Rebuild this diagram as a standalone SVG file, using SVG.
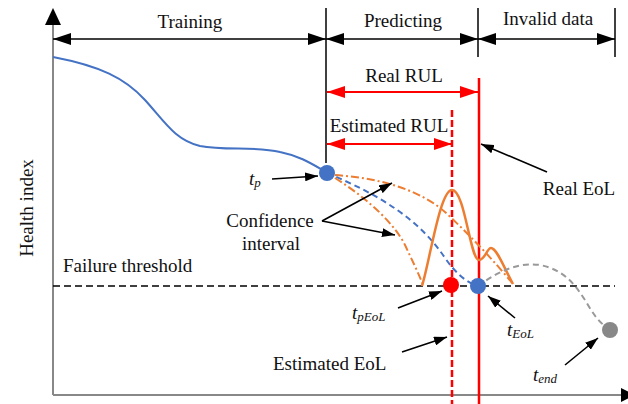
<svg xmlns="http://www.w3.org/2000/svg" width="628" height="404" viewBox="0 0 628 404" font-family="'Liberation Serif', 'DejaVu Serif', serif">
<style>
text{font-family:'Liberation Serif','DejaVu Serif',serif;font-size:19px;fill:#111}
.it{font-style:italic}
.sub{font-size:13px;font-style:italic}
.dim{stroke:#000;stroke-width:1.5;fill:none}
.red{stroke:#ff0000;stroke-width:2.5;fill:none}
.ptr{stroke:#000;stroke-width:1.6;fill:none;marker-end:url(#ah)}
</style>
<defs>
<marker id="db" viewBox="0 0 18 12" refX="18" refY="6" markerWidth="18" markerHeight="12" markerUnits="userSpaceOnUse" orient="auto-start-reverse"><path d="M0,0 L18,6 L0,12 Z" fill="#000"/></marker>
<marker id="dr" viewBox="0 0 18 12" refX="18" refY="6" markerWidth="18" markerHeight="12" markerUnits="userSpaceOnUse" orient="auto-start-reverse"><path d="M0,0 L18,6 L0,12 Z" fill="#ff0000"/></marker>
<marker id="ah" viewBox="0 0 13 9" refX="13" refY="4.5" markerWidth="13" markerHeight="9" markerUnits="userSpaceOnUse" orient="auto"><path d="M0,0 L13,4.5 L0,9 Z" fill="#000"/></marker>
</defs>
<g id="axes">
<line x1="53" y1="22" x2="53" y2="395" stroke="#888" stroke-width="2"/>
<line x1="53" y1="395" x2="624" y2="395" stroke="#888" stroke-width="2"/>
<polygon points="45,25 53,8 61,25" fill="#000"/>
<polygon points="621,388 635,395 621,402" fill="#000"/>
<text transform="translate(33,208) rotate(-90)" text-anchor="middle">Health index</text>
</g>
<g id="phases">
<line class="dim" x1="326" y1="8" x2="326" y2="163"/>
<line class="dim" x1="478" y1="8" x2="478" y2="57"/>
<line class="dim" x1="615" y1="8" x2="615" y2="57"/>
<text x="190" y="28" text-anchor="middle">Training</text>
<text x="403" y="27" text-anchor="middle">Predicting</text>
<text x="548" y="25" text-anchor="middle">Invalid data</text>
</g>
<g id="rul">
<line class="red" x1="479" y1="78" x2="479" y2="404"/>
<line class="red" x1="452" y1="110" x2="452" y2="404" stroke-dasharray="7,3"/>
<text x="404" y="82" text-anchor="middle">Real RUL</text>
<text x="389" y="132" text-anchor="middle">Estimated RUL</text>
</g>
<g id="threshold">
<line x1="53" y1="286" x2="615" y2="286" stroke="#000" stroke-width="1.5" stroke-dasharray="7,4"/>
<text x="63" y="272">Failure threshold</text>
</g>
<g id="curves">
<path d="M53,57 C100,66 125,78 145,100 C165,122 175,140 200,146 C225,151 255,146 280,152 C300,156 312,164 326,172" stroke="#4472C4" stroke-width="2" fill="none"/>
<path d="M327,173 C380,195 420,220 445,258 C455,272 465,282 478,286" stroke="#4472C4" stroke-width="2" fill="none" stroke-dasharray="6,4"/>
<path d="M335,175 C380,178 420,190 445,212 C470,235 495,262 513,284" stroke="#ED7D31" stroke-width="2" fill="none" stroke-dasharray="8,3,2,3"/>
<path d="M335,178 C370,200 395,225 405,245 C412,260 418,272 423,285" stroke="#ED7D31" stroke-width="2" fill="none" stroke-dasharray="8,3,2,3"/>
<path d="M422,286 C430,260 440,190 452,190 C465,190 470,260 479,260 C485,260 487,248 491,248 C497,248 505,270 513,284" stroke="#ED7D31" stroke-width="2.5" fill="none"/>
<path d="M478,286 C500,270 520,262 540,265 C565,270 575,285 585,300 C592,312 598,322 610,330" stroke="#999" stroke-width="2" fill="none" stroke-dasharray="6,4"/>
</g>
<g id="node-tp"><circle cx="327" cy="173" r="8" fill="#4472C4"/><text x="249" y="185" class="it">t<tspan class="sub" dy="2">p</tspan></text></g>
<g id="node-tpEoL"><circle cx="451" cy="285" r="8" fill="#ff0000"/><text x="352" y="319" class="it">t<tspan class="sub" dy="2">pEoL</tspan></text></g>
<g id="node-tEoL"><circle cx="478" cy="286" r="8" fill="#4472C4"/><text x="507" y="336" class="it">t<tspan class="sub" dy="2">EoL</tspan></text></g>
<g id="node-tend"><circle cx="610" cy="330" r="8" fill="#888"/><text x="533" y="381" class="it">t<tspan class="sub" dy="2">end</tspan></text></g>
<g id="labels">
<text x="270" y="227" text-anchor="middle">Confidence</text>
<text x="271" y="250" text-anchor="middle">interval</text>
<text x="579" y="195" text-anchor="middle">Real EoL</text>
<text x="273" y="370">Estimated EoL</text>
</g>
<g id="connectors">
<line class="dim" x1="53" y1="39" x2="326" y2="39" marker-start="url(#db)" marker-end="url(#db)"/>
<line class="dim" x1="326" y1="39" x2="478" y2="39" marker-start="url(#db)" marker-end="url(#db)"/>
<line class="dim" x1="478" y1="39" x2="615" y2="39" marker-start="url(#db)" marker-end="url(#db)"/>
<line x1="327" y1="92" x2="478" y2="92" stroke="#ff0000" stroke-width="2" marker-start="url(#dr)" marker-end="url(#dr)"/>
<line x1="327" y1="144" x2="452" y2="144" stroke="#ff0000" stroke-width="2" marker-start="url(#dr)" marker-end="url(#dr)"/>
<line class="ptr" x1="272" y1="179" x2="318" y2="176"/>
<line class="ptr" x1="322" y1="221" x2="392" y2="183"/>
<line class="ptr" x1="322" y1="221" x2="395" y2="235"/>
<line class="ptr" x1="547" y1="172" x2="481" y2="144"/>
<line class="ptr" x1="398" y1="308" x2="442" y2="291"/>
<line class="ptr" x1="402" y1="352" x2="447" y2="337"/>
<line class="ptr" x1="515" y1="318" x2="488" y2="296"/>
<line class="ptr" x1="565" y1="365" x2="598" y2="338"/>
</g>
</svg>
